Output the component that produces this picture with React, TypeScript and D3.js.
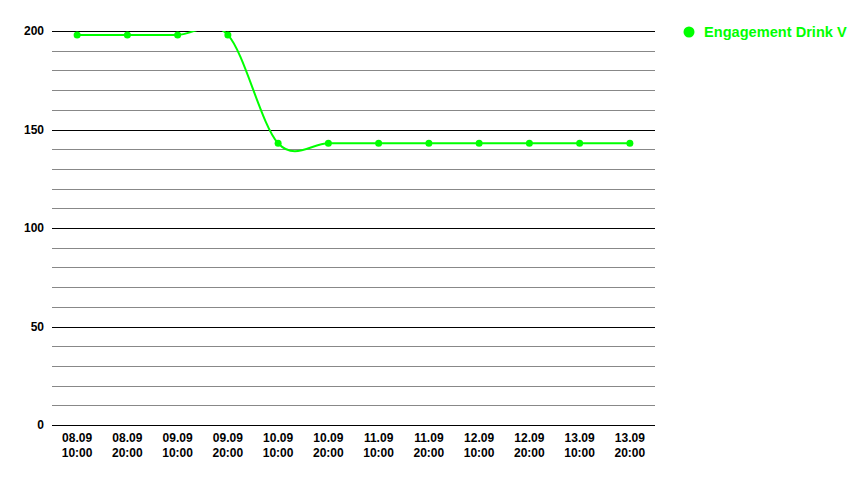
import React from 'react'
import * as d3 from 'd3'

const categories = [
  '08.09\n10:00', '08.09\n20:00', '09.09\n10:00', '09.09\n20:00',
  '10.09\n10:00', '10.09\n20:00', '11.09\n10:00', '11.09\n20:00',
  '12.09\n10:00', '12.09\n20:00', '13.09\n10:00', '13.09\n20:00',
]
const values = [198, 198, 198, 198, 143, 143, 143, 143, 143, 143, 143, 143]
const yTicks = [0, 50, 100, 150, 200]
const seriesName = 'Engagement Drink V'

const W = 858
const H = 484
const left = 52
const right = 655
const top = 31
const bottom = 425
const green = '#00ff00'

const App: React.FC = () => {
  const x = d3.scalePoint<string>().domain(categories).range([left, right]).padding(0.5)
  const y = d3.scaleLinear().domain([0, 200]).range([bottom, top])
  const grid = d3.range(0, 201, 10)

  // spline with overshoot, clipped to the plot like the original
  const line = d3.line<number>()
    .x((_, i) => x(categories[i]) as number)
    .y(d => y(d))
    .curve(d3.curveCardinal.tension(0))

  return (
    <svg width={W} height={H} style={{ position: 'absolute', left: 0, top: 0, fontFamily: 'Liberation Sans, Arial, sans-serif' }}>
      <defs>
        <clipPath id="plot">
          <rect x={left} y={top} width={right - left} height={bottom - top} />
        </clipPath>
      </defs>
      {grid.map(v => (
        <line key={v} x1={left} x2={right} y1={Math.round(y(v)) + 0.5} y2={Math.round(y(v)) + 0.5}
          stroke={v % 50 === 0 ? '#000' : '#888'} strokeWidth={1} />
      ))}
      {yTicks.map(v => (
        <text key={v} x={44} y={y(v)} dy="0.35em" textAnchor="end" fontSize={12} fontWeight="bold" fill="#000">{v}</text>
      ))}
      {categories.map(c => {
        const [a, b] = c.split('\n')
        return (
          <text key={c} x={x(c)} textAnchor="middle" fontSize={12} fontWeight="bold" fill="#000">
            <tspan x={x(c)} y={442}>{a}</tspan>
            <tspan x={x(c)} y={457}>{b}</tspan>
          </text>
        )
      })}
      <g clipPath="url(#plot)">
        <path d={line(values) || ''} fill="none" stroke={green} strokeWidth={2} />
      </g>
      {values.map((v, i) => (
        <circle key={i} cx={x(categories[i])} cy={y(v)} r={3.5} fill={green} />
      ))}
      <circle cx={689} cy={32} r={5.5} fill={green} />
      <text x={704} y={37} fontSize={14.6} fontWeight="bold" fill={green}>{seriesName}</text>
    </svg>
  )
}

export default App
